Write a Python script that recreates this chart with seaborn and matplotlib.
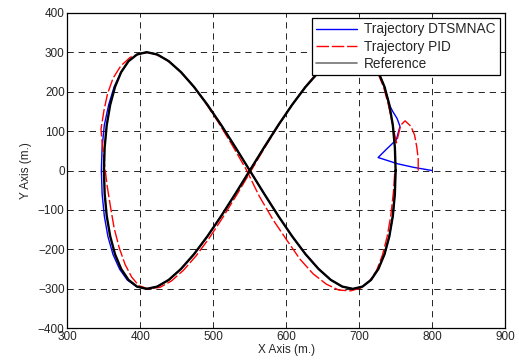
import matplotlib
matplotlib.use("Agg")
import matplotlib.pyplot as plt
import seaborn as sns

# reference figure-eight
ref_x = [750, 749.0, 746.2, 741.4, 734.8, 726.4, 716.3, 704.6, 691.4, 676.9, 661.1, 644.3, 626.5, 608.1, 589.0, 569.6,
         550, 530.4, 511.0, 491.9, 473.5, 455.7, 438.9, 423.1, 408.6, 395.4, 383.7, 373.6, 365.2, 358.6, 353.8, 351.0,
         350, 351.0, 353.8, 358.6, 365.2, 373.6, 383.7, 395.4, 408.6, 423.1, 438.9, 455.7, 473.5, 491.9, 511.0, 530.4,
         550, 569.6, 589.0, 608.1, 626.5, 644.3, 661.1, 676.9, 691.4, 704.6, 716.3, 726.4, 734.8, 741.4, 746.2, 749.0, 750]
ref_y = [0, 58.5, 114.8, 166.7, 212.1, 249.4, 277.2, 294.2, 300, 294.2, 277.2, 249.4, 212.1, 166.7, 114.8, 58.5,
         0, -58.5, -114.8, -166.7, -212.1, -249.4, -277.2, -294.2, -300, -294.2, -277.2, -249.4, -212.1, -166.7, -114.8, -58.5,
         0, 58.5, 114.8, 166.7, 212.1, 249.4, 277.2, 294.2, 300, 294.2, 277.2, 249.4, 212.1, 166.7, 114.8, 58.5,
         0, -58.5, -114.8, -166.7, -212.1, -249.4, -277.2, -294.2, -300, -294.2, -277.2, -249.4, -212.1, -166.7, -114.8, -58.5, 0]

# DTSMNAC trajectory
dts_x = [800, 775, 753, 726, 738, 751, 756, 752, 746,
         741.4, 734.8, 726.4, 716.3, 704.6, 691.4, 676.9, 661.1, 644.3, 626.5, 608.1, 589.0, 569.6,
         550, 530.4, 511.0, 491.9, 473.5, 455.7, 438.9, 423.1, 408.6, 395.0, 382.0, 371.5, 362.5, 355.5, 350.5, 347.5,
         346.5, 347.5, 350.5, 356.5, 364.0, 373.6, 383.7, 395.4, 408.6, 423.1, 438.9, 455.7, 473.5, 491.9, 511.0, 530.4,
         550, 569.6, 589.0, 608.1, 626.5, 644.3, 661.1, 676.9, 691.4, 704.6, 716.3, 726.4, 734.8, 741.4, 746.2, 749.0, 750]
dts_y = [0, 8, 17, 33, 55, 78, 112, 132, 150,
         166.7, 212.1, 249.4, 277.2, 294.2, 300, 294.2, 277.2, 249.4, 212.1, 166.7, 114.8, 58.5,
         0, -58.5, -114.8, -166.7, -212.1, -249.4, -277.2, -294.2, -300, -294.5, -277.5, -250.0, -213.0, -167.5, -115.0, -58.5,
         0, 58.5, 114.8, 166.7, 212.1, 249.4, 277.2, 294.2, 300, 294.2, 277.2, 249.4, 212.1, 166.7, 114.8, 58.5,
         0, -58.5, -114.8, -166.7, -212.1, -249.4, -277.2, -294.2, -300, -294.2, -277.2, -249.4, -212.1, -166.7, -114.8, -58.5, 0]

# PID trajectory
pid_x = [781, 781, 779, 776, 771, 763, 757, 754, 751, 746.2,
         740, 733.5, 725, 715, 703.5, 690.5, 676, 660, 643, 625.5, 607.5, 589, 570,
         551, 532, 513, 494.5, 476.5, 459, 442.5, 427, 411, 398, 388, 379, 371, 364, 359, 354.5,
         351, 348, 346, 350, 355, 362.5, 373, 386, 402, 418, 435, 452, 470, 488, 507, 526,
         545, 563, 582, 601, 619, 637, 655, 672, 688, 702, 714, 724, 732, 738.5, 743.5, 747, 749]
pid_y = [0, 30, 60, 90, 112, 126, 115, 92, 70, 114.8,
         167, 212, 249.5, 277.5, 294.5, 300, 294, 277, 249, 211, 165, 113, 56.5,
         -3, -62, -119, -171, -216, -253, -280, -296, -300, -292, -270, -238, -196, -146, -92, -40,
         12, 60, 105, 152, 195, 234, 265, 287, 298, 297, 282, 256, 220, 175, 122, 64,
         3, -65, -125, -177, -225, -262, -288, -303, -305, -298, -281, -253, -214, -167, -113, -55, 0]

sns.set_style("white")
plt.rcParams['font.family'] = ['Liberation Sans', 'DejaVu Sans']
plt.rcParams['lines.scale_dashes'] = False

fig = plt.figure(figsize=(5.19, 3.64), dpi=100)
ax = fig.add_axes([0.130, 0.098, 0.843, 0.867])

sns.lineplot(x=dts_x, y=dts_y, sort=False, estimator=None, color='#0000ff', linewidth=1.0,
             label='Trajectory DTSMNAC', ax=ax)
sns.lineplot(x=pid_x, y=pid_y, sort=False, estimator=None, color='#ff0000', linewidth=1.0,
             linestyle=(0, (9, 2)), label='Trajectory PID', ax=ax)
sns.lineplot(x=ref_x, y=ref_y, sort=False, estimator=None, color='black', linewidth=1.7,
             label='Reference', ax=ax)

ax.set_xlim(300, 900)
ax.set_ylim(-400, 400)
ax.set_xticks(range(300, 901, 100))
ax.set_yticks(range(-400, 401, 100))
ax.grid(True, color='black', linestyle=(0, (4.5, 3.5)), linewidth=0.6)
ax.tick_params(direction='in', top=True, right=True, length=3, width=0.6, labelsize=8.5, pad=2)
for s in ax.spines.values():
    s.set_color('black')
    s.set_linewidth(0.9)
ax.set_xlabel('X Axis (m.)', fontsize=8.5, labelpad=1)
ax.set_ylabel('Y Axis (m.)', fontsize=8.5, labelpad=4)

leg = ax.legend(loc='upper right', fontsize=9.8, frameon=True, fancybox=False, framealpha=1,
                edgecolor='black', handlelength=3.0, borderaxespad=0.4, borderpad=0.3,
                labelspacing=0.25, handletextpad=0.5)
leg.get_frame().set_linewidth(0.9)
leg.get_lines()[2].set_color('0.45')
leg.get_lines()[2].set_linewidth(1.2)

fig.savefig('out.png', dpi=100)
